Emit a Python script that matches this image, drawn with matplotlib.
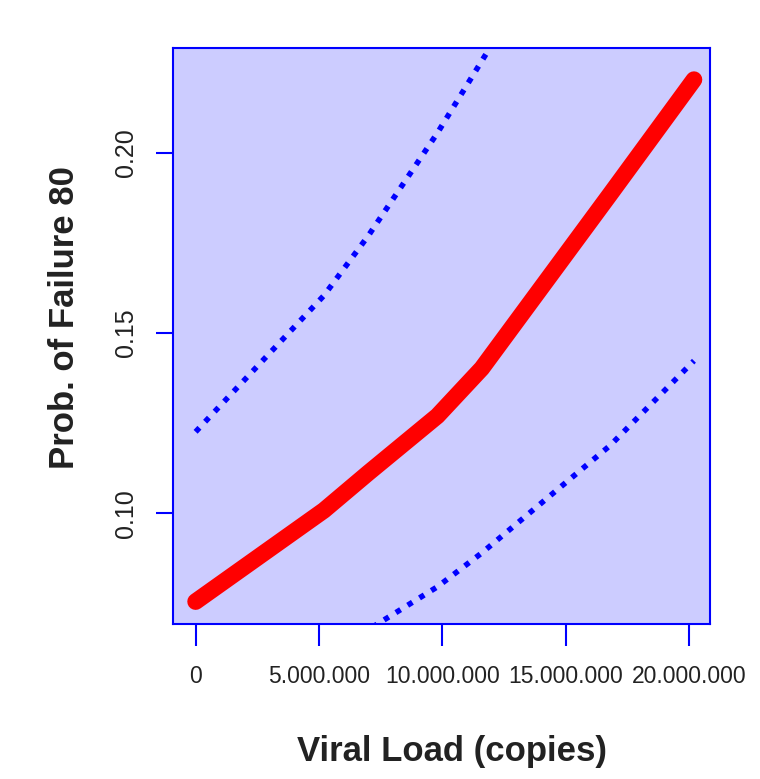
import matplotlib
matplotlib.use("Agg")
import matplotlib.pyplot as plt
from matplotlib.ticker import FixedLocator

# viral load values where the fitted curve was evaluated
viral_load = [0, 5.2e6, 7.0e6, 9.8e6, 11.6e6, 16.8e6, 20.2e6]
prob_fit = [0.0755, 0.1008, 0.1112, 0.1270, 0.1402, 0.1885, 0.2203]
prob_upper = [0.1226, 0.1604, 0.1770, 0.2055, 0.2255, 0.2830, 0.3220]
prob_lower = [0.0460, 0.0610, 0.0677, 0.0796, 0.0890, 0.1188, 0.1423]

x_ticks = [0, 5e6, 10e6, 15e6, 20e6]
x_tick_labels = ["0", "5.000.000", "10.000.000", "15.000.000", "20.000.000"]
y_ticks = [0.10, 0.15, 0.20]
y_tick_labels = ["0.10", "0.15", "0.20"]

BLUE = "#0000FF"
TEXT = "#222222"
PANEL = "#CCCCFF"

plt.rcParams["font.family"] = ["Liberation Sans", "DejaVu Sans"]

fig = plt.figure(figsize=(7.6, 7.79), dpi=100, facecolor="white")
ax = fig.add_axes([0.2272, 0.1986, 0.7070, 0.7394])
ax.set_facecolor(PANEL)

ax.plot(viral_load, prob_upper, color=BLUE, linewidth=4,
        linestyle=(0, (1, 1.5)), dash_capstyle="butt")
ax.plot(viral_load, prob_lower, color=BLUE, linewidth=4,
        linestyle=(0, (1, 1.5)), dash_capstyle="butt")
ax.plot(viral_load, prob_fit, color="#FF0000", linewidth=12,
        solid_capstyle="round", solid_joinstyle="round")

ax.set_xlim(-0.93e6, 20.85e6)
ax.set_ylim(0.0692, 0.2290)

for s in ax.spines.values():
    s.set_color(BLUE)
    s.set_linewidth(1.5)

ax.xaxis.set_major_locator(FixedLocator(x_ticks))
ax.set_xticklabels(x_tick_labels, fontsize=16.5, color=TEXT)
ax.yaxis.set_major_locator(FixedLocator(y_ticks))
ax.set_yticklabels(y_tick_labels, fontsize=18, color=TEXT,
                   rotation=90, va="center")

ax.tick_params(axis="x", length=16, width=1.5, color=BLUE, pad=13)
ax.tick_params(axis="y", length=12, width=1.5, color=BLUE, pad=13)

fig.text(0.595, 1 - 752 / 779, "Viral Load (copies)", fontsize=25,
         fontweight="bold", color=TEXT, ha="center", va="center")
fig.text(65 / 760, 1 - 318 / 779, "Prob. of Failure 80", fontsize=25,
         fontweight="bold", color=TEXT, ha="center", va="center",
         rotation=90)

fig.savefig("out.png", dpi=100, facecolor="white")
